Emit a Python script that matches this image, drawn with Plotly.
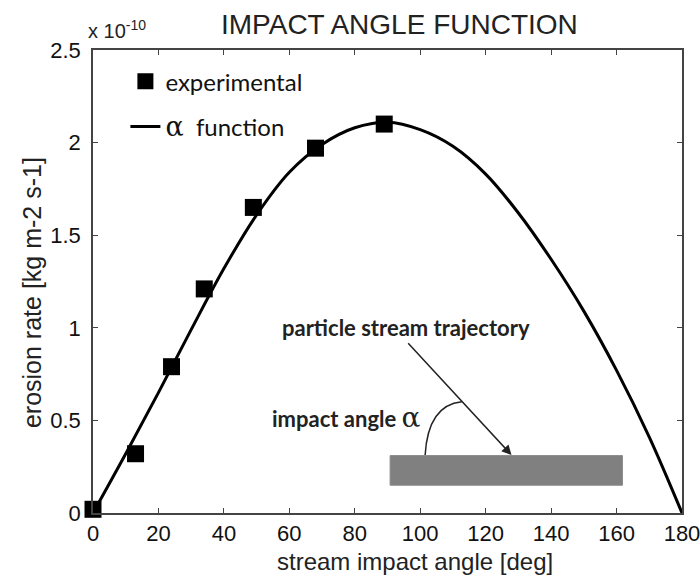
import plotly.graph_objects as go

# experimental data (erosion rate, units of 1e-10 kg m-2 s-1)
exp_angle = [0, 13, 24, 34, 49, 68, 89]
exp_rate = [0.02, 0.32, 0.79, 1.21, 1.65, 1.97, 2.10]

# alpha function curve
fn_angle = [0, 10, 20, 30, 40, 50, 60, 70, 80, 90, 100, 110, 120, 130, 140, 150, 160, 170, 180]
fn_rate = [0.0, 0.32, 0.65, 0.99, 1.32, 1.61, 1.84, 1.99, 2.08, 2.11, 2.07, 1.98, 1.83, 1.62, 1.37, 1.09, 0.77, 0.41, 0.0]

x_ticks = [0, 20, 40, 60, 80, 100, 120, 140, 160, 180]
y_ticks = [0, 0.5, 1, 1.5, 2, 2.5]
y_tick_text = ["0", "0.5", "1", "1.5", "2", "2.5"]

fig = go.Figure()
fig.add_trace(go.Scatter(
    x=fn_angle, y=fn_rate, mode="lines", legendgroup="b", legendrank=2,
    name="<span style='font-family:DejaVu Serif;font-size:27px'>α</span>  function",
    line=dict(color="black", width=3, shape="spline", smoothing=1.0),
    cliponaxis=False,
))
fig.add_trace(go.Scatter(
    x=exp_angle, y=exp_rate, mode="markers", name="experimental",
    legendgroup="a", legendrank=1,
    marker=dict(symbol="square", size=17, color="black"),
    cliponaxis=False,
))

annot_font = dict(family="Lato", size=22, color="#222")
axis_common = dict(
    showline=True, linecolor="#444", linewidth=1.5, mirror="ticks",
    ticks="inside", ticklen=5, tickcolor="#444", showgrid=False, zeroline=False,
    automargin=False,
    tickfont=dict(family="Liberation Sans", size=22, color="#111"),
)

fig.update_layout(
    width=700, height=577,
    margin=dict(l=93, r=18, t=50, b=64),
    paper_bgcolor="white", plot_bgcolor="white",
    xaxis=dict(range=[0, 180], tickvals=x_ticks, ticklabeloverflow="allow", **axis_common),
    yaxis=dict(range=[0, 2.5], tickvals=y_ticks, ticktext=y_tick_text,
               ticklabelstandoff=6, **axis_common),
    showlegend=True,
    legend=dict(
        x=0.055, y=0.98, xanchor="left", yanchor="top",
        bgcolor="rgba(0,0,0,0)", borderwidth=0,
        font=dict(family="Lato", size=24, color="#111"),
        tracegroupgap=11, traceorder="grouped",
    ),
    shapes=[
        dict(type="rect", xref="x", yref="y", x0=90.8, x1=161.8, y0=0.15, y1=0.31,
             fillcolor="#808080", line=dict(color="#8a8a8a", width=1), layer="above"),
        dict(type="path", xref="x", yref="y",
             path="M 101.5 0.313 Q 102.4 0.583 112.7 0.601",
             line=dict(color="#222", width=1.5)),
    ],
    annotations=[
        dict(text="IMPACT ANGLE FUNCTION", xref="paper", yref="paper",
             x=0.52, y=1.0, yshift=26, yanchor="middle", showarrow=False,
             font=dict(family="Liberation Sans", size=28, color="#222")),
        dict(text="x 10<sup>-10</sup>", xref="paper", yref="paper",
             x=0.0, y=1.0, xshift=-7, yshift=21, xanchor="left", yanchor="middle",
             showarrow=False,
             font=dict(family="Liberation Sans", size=20, color="#222")),
        dict(text="stream impact angle [deg]", xref="paper", yref="paper",
             x=0.547, y=0, yshift=-48, yanchor="middle", showarrow=False,
             font=dict(family="Liberation Sans", size=24, color="#222")),
        dict(text="erosion rate [kg m-2 s-1]", xref="paper", yref="paper",
             x=0, y=0.475, xshift=-61, xanchor="center", yanchor="middle",
             textangle=-90, showarrow=False,
             font=dict(family="Liberation Sans", size=25, color="#222")),
        dict(text="<b>particle stream trajectory</b>", xref="x", yref="y",
             x=57.2, y=1.004, xanchor="left", yanchor="middle", showarrow=False,
             font=annot_font),
        dict(text="<b>impact angle </b><span style='font-family:DejaVu Serif;font-size:28px'>α</span>",
             xref="x", yref="y", x=54.1, y=0.518, xanchor="left", yanchor="middle",
             showarrow=False, font=annot_font),
        dict(text="", xref="x", yref="y", x=127.9, y=0.313, ax=95.9, ay=0.925,
             axref="x", ayref="y", showarrow=True, arrowhead=2, arrowsize=1.3,
             arrowwidth=1.5, arrowcolor="#222"),
    ],
)

fig.write_html(
    "out.html",
    config={"displayModeBar": False},
    post_script="document.body.style.margin='0';document.body.style.overflow='hidden';",
)
